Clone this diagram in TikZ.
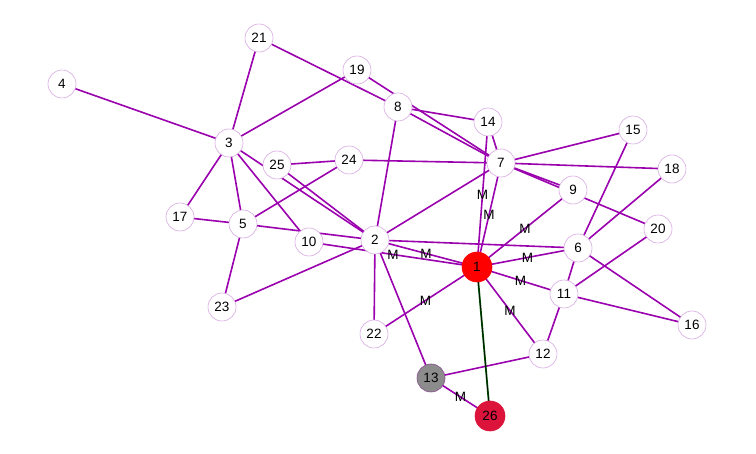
\documentclass[tikz,border=0pt]{standalone}
\usepackage{fontspec}
\setmainfont{Liberation Sans}
\usetikzlibrary{calc}
\definecolor{edgec}{RGB}{155,0,175}
\definecolor{rimc}{RGB}{215,170,225}
\definecolor{crim}{RGB}{220,20,60}
\definecolor{darkg}{RGB}{0,90,0}
\begin{document}
\begin{tikzpicture}[x=1pt,y=-1pt,
  vert/.style={circle,draw=rimc,line width=0.6pt,fill=white,minimum size=28pt,inner sep=0pt,font=\fontsize{13.5}{13.5}\selectfont},
  edge/.style={draw=edgec,line width=1.6pt},
  mlab/.style={font=\fontsize{13.5}{13.5}\selectfont,inner sep=0pt}]
\useasboundingbox (0,0) rectangle (756,454);
\path[fill=white] (0,0) rectangle (756,454);
% coordinates of nodes
\coordinate (c1) at (477,267);
\coordinate (c2) at (375,240);
\coordinate (c3) at (229,143);
\coordinate (c4) at (62,84);
\coordinate (c5) at (243,224);
\coordinate (c6) at (578,248);
\coordinate (c7) at (501,163);
\coordinate (c8) at (398,107);
\coordinate (c9) at (573,190);
\coordinate (c10) at (309,242);
\coordinate (c11) at (564,294);
\coordinate (c12) at (543,354);
\coordinate (c13) at (431,378);
\coordinate (c14) at (488,122);
\coordinate (c15) at (633,130);
\coordinate (c16) at (692,325);
\coordinate (c17) at (180,217);
\coordinate (c18) at (672,169);
\coordinate (c19) at (357,70);
\coordinate (c20) at (658,229);
\coordinate (c21) at (259,38);
\coordinate (c22) at (374,334);
\coordinate (c23) at (222,307);
\coordinate (c24) at (349,160);
\coordinate (c25) at (277,165);
\coordinate (c26) at (490,416);
% edges
\foreach \a/\b in {4/3,21/3,19/3,21/8,19/7,8/7,8/14,14/7,14/1,8/2,3/2,25/2,3/17,3/5,3/10,17/5,5/23,5/2,10/1,24/5,25/24,24/7,23/2,2/7,2/1,2/6,2/13,2/22,7/1,7/15,7/18,7/9,7/20,9/1,6/15,6/18,6/11,6/16,6/1,11/20,11/16,11/12,11/1,12/13,12/1,22/1,13/26}
  \draw[edge] (c\a) -- (c\b);
\draw[darkg,line width=1.8pt] (c1) -- (c26);
\draw[black,line width=0.6pt] (c1) -- (c26);
% vertices
\foreach \n in {2,3,4,5,6,7,8,9,10,11,12,14,15,16,17,18,19,20,21,22,23,24,25}
  \node[vert] (n\n) at (c\n) {\n};
\node[vert,fill=red,draw=red,minimum size=30pt] (n1) at (c1) {1};
\node[vert,fill=gray!90,draw=edgec!40!gray] (n13) at (c13) {13};
\node[vert,fill=crim,draw=crim,minimum size=30pt] (n26) at (c26) {26};
% edge labels
\foreach \a/\b in {14/1,7/1,9/1,6/1,11/1,12/1,22/1,2/1,10/1,13/26}
  \node[mlab] at ($(c\a)!0.5!(c\b)$) {M};
\end{tikzpicture}
\end{document}
